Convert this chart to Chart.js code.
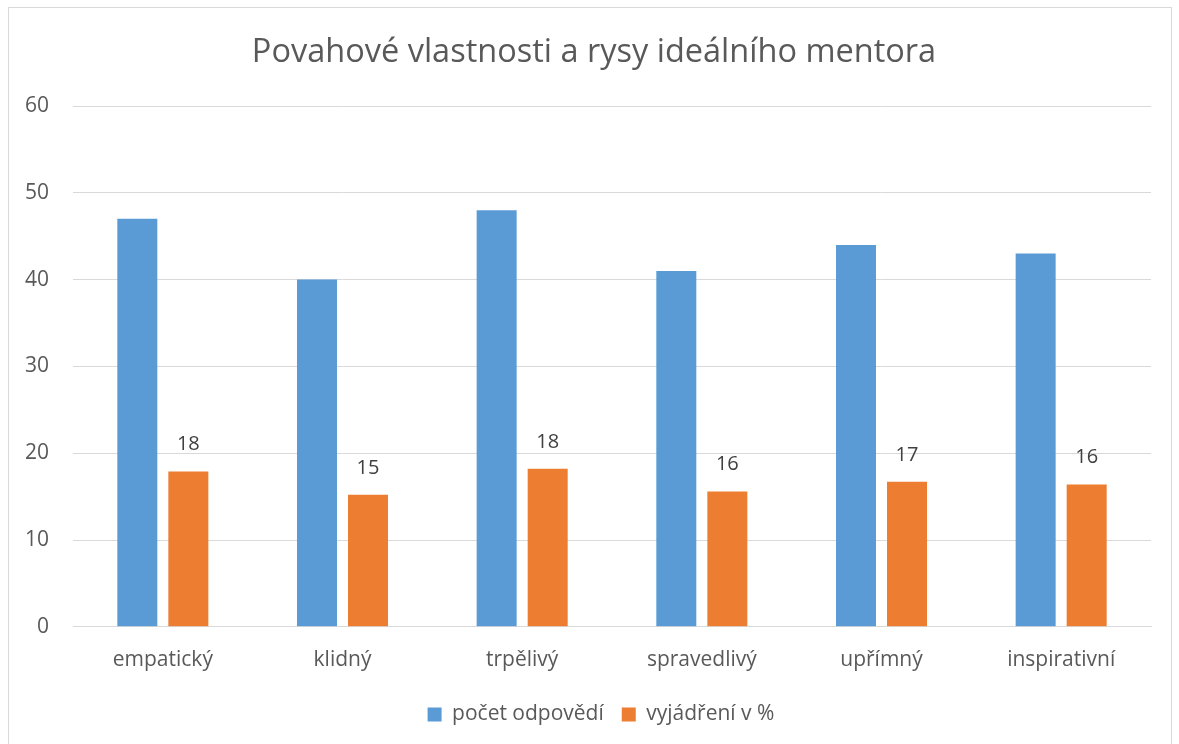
<!DOCTYPE html>
<html>
<head>
<meta charset="utf-8">
<script src="https://cdn.jsdelivr.net/npm/chart.js@4"></script>
<style>
  body { margin: 0; background: #fff; }
  #wrap { position: absolute; left: 8px; top: 7px; width: 1164px; height: 745px; border: 1px solid #d9d9d9; box-sizing: border-box; }
  canvas { display: block; }
</style>
</head>
<body>
<div id="wrap"><canvas id="chart"></canvas></div>
<script>
// data
const categories = ['empatický', 'klidný', 'trpělivý', 'spravedlivý', 'upřímný', 'inspirativní'];
const counts = [47, 40, 48, 41, 44, 43];
const percents = [17.9, 15.2, 18.2, 15.6, 16.7, 16.4];
const seriesNames = ['počet odpovědí', 'vyjádření v %'];

const FONT = "'Open Sans', 'Liberation Sans', sans-serif";
const TEXT = '#595959';

// labels above the orange bars only
const pctLabels = {
    id: 'pctLabels',
    afterDatasetsDraw(chart) {
        const ctx = chart.ctx;
        const meta = chart.getDatasetMeta(1);
        ctx.save();
        ctx.font = '20px ' + FONT;
        ctx.fillStyle = '#404040';
        ctx.textAlign = 'center';
        ctx.textBaseline = 'middle';
        meta.data.forEach((bar, i) => {
            ctx.fillText(Math.round(percents[i]), bar.x, bar.y - 27);
        });
        ctx.restore();
    }
};

// excel centres title and legend a bit more to the right
const shiftBoxes = {
    id: 'shiftBoxes',
    afterLayout(chart) {
        chart.titleBlock.left += 14;
        chart.titleBlock.right += 14;
        chart.legend.left += 21;
        chart.legend.right += 21;
    }
};

const ctx = document.querySelector('#chart').getContext('2d');
const chart = new Chart(ctx, {
    type: 'bar',
    data: {
        labels: categories,
        datasets: [{
            label: seriesNames[0],
            data: counts,
            backgroundColor: '#5b9bd5',
            barPercentage: 0.784,
            categoryPercentage: 0.568,
        }, {
            label: seriesNames[1],
            data: percents,
            backgroundColor: '#ed7d31',
            barPercentage: 0.784,
            categoryPercentage: 0.568,
        }]
    },
    options: {
        responsive: true,
        maintainAspectRatio: false,
        animation: false,
        layout: { padding: { left: 0, right: 20, top: 10, bottom: 16 } },
        plugins: {
            title: {
                display: true,
                text: 'Povahové vlastnosti a rysy ideálního mentora',
                color: TEXT,
                font: { family: FONT, size: 32.5, weight: 'normal' },
                padding: { top: 15, bottom: 34 },
            },
            legend: {
                display: true,
                position: 'bottom',
                labels: {
                    color: TEXT,
                    font: { family: FONT, size: 21 },
                    boxWidth: 14,
                    boxHeight: 14,
                    padding: 18,
                },
            },
            tooltip: { enabled: false },
        },
        scales: {
            x: {
                grid: { display: false },
                border: { color: '#d9d9d9', width: 1 },
                ticks: {
                    color: TEXT,
                    font: { family: FONT, size: 21 },
                    padding: 13,
                },
            },
            y: {
                min: 0,
                max: 60,
                grid: { color: '#d9d9d9', lineWidth: 1, drawTicks: false },
                border: { display: false },
                afterFit: (scale) => { scale.width = 64; },
                ticks: {
                    stepSize: 10,
                    color: TEXT,
                    font: { family: FONT, size: 21 },
                    padding: 24,
                },
            },
        },
    },
    plugins: [pctLabels, shiftBoxes],
});
</script>
</body>
</html>
